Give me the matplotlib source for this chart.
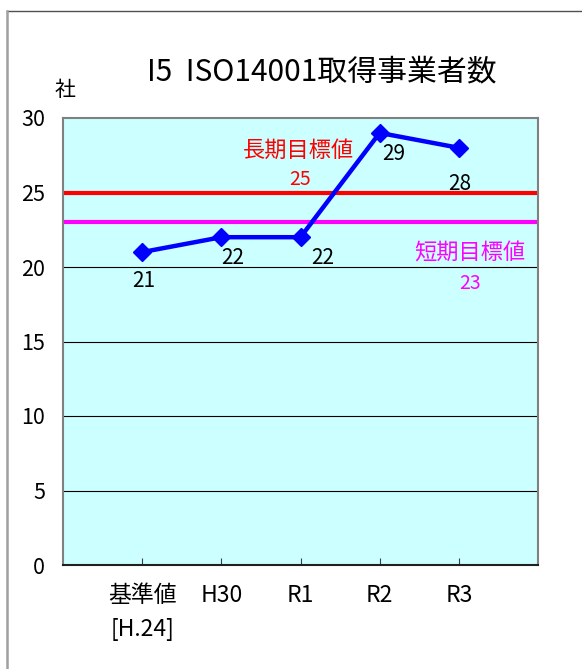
import matplotlib
matplotlib.use('Agg')
import matplotlib.pyplot as plt
from matplotlib.lines import Line2D

plt.rcParams['font.family'] = ['Noto Sans CJK JP', 'DejaVu Sans']

categories = ['基準値\n[H.24]', 'H30', 'R1', 'R2', 'R3']
counts = [21, 22, 22, 29, 28]
long_target = 25
short_target = 23
title = 'I5  ISO14001取得事業者数'

# label offsets in points (Excel-like placement below the points)
label_offsets = [(1, -21), (8, -15), (16, -15), (10, -15), (1, -26)]

fig = plt.figure(figsize=(5.82, 6.69), dpi=100)
ax = fig.add_axes([63 / 582, 104 / 669, 475 / 582, 447 / 669])
ax.set_facecolor('#CCFFFF')

x = list(range(1, len(categories) + 1))
ax.set_xlim(0, 6)
ax.set_ylim(0, 30)
ax.set_yticks(range(0, 31, 5))
ax.set_xticks(x)
ax.set_xticklabels(categories, fontsize=16.5, linespacing=1.6)

for v in range(5, 30, 5):
    if v != 25:
        ax.axhline(v, color='black', lw=0.8, zorder=1)

ax.axhline(long_target, color='#FF0000', lw=3.0, zorder=2)
ax.axhline(short_target, color='#FF00FF', lw=3.0, zorder=2)

ax.plot(x, counts, color='#0000FF', lw=3.2, marker='D', markersize=9,
        zorder=3, clip_on=False)

for xi, yi, (dx, dy) in zip(x, counts, label_offsets):
    ax.annotate(str(yi), (xi, yi), xytext=(dx, dy), textcoords='offset points',
                ha='center', va='center', fontsize=15, color='black')

ax.text(2.97, 27.8, '長期目標値', color='#FF0000', fontsize=16, ha='center', va='center')
ax.text(3.0, 25.85, str(long_target), color='#FF0000', fontsize=14, ha='center', va='center')
ax.text(5.14, 20.95, '短期目標値', color='#FF00FF', fontsize=16, ha='center', va='center')
ax.text(5.14, 18.9, str(short_target), color='#FF00FF', fontsize=14, ha='center', va='center')

ax.tick_params(axis='y', length=0, pad=13, labelsize=15.5)
ax.tick_params(axis='x', direction='in', length=5, pad=14, color='#404040')

for side in ['left', 'top', 'right']:
    ax.spines[side].set_color('#808080')
    ax.spines[side].set_linewidth(1.5)
ax.spines['bottom'].set_color('#202020')
ax.spines['bottom'].set_linewidth(1.5)

fig.text(65 / 582, 1 - 90 / 669, '社', fontsize=15, ha='center', va='center')
fig.text(322 / 582, 1 - 72 / 669, title, fontsize=21.5, ha='center', va='center')

# outer frame (top and left edges)
fig.add_artist(Line2D([7 / 582, 1], [1 - 11 / 669, 1 - 11 / 669],
                      transform=fig.transFigure, color='#505050', lw=1.0))
fig.add_artist(Line2D([7 / 582, 7 / 582], [0, 1 - 11 / 669],
                      transform=fig.transFigure, color='#A0A0A0', lw=1.8))

fig.savefig('out.png', dpi=100)
